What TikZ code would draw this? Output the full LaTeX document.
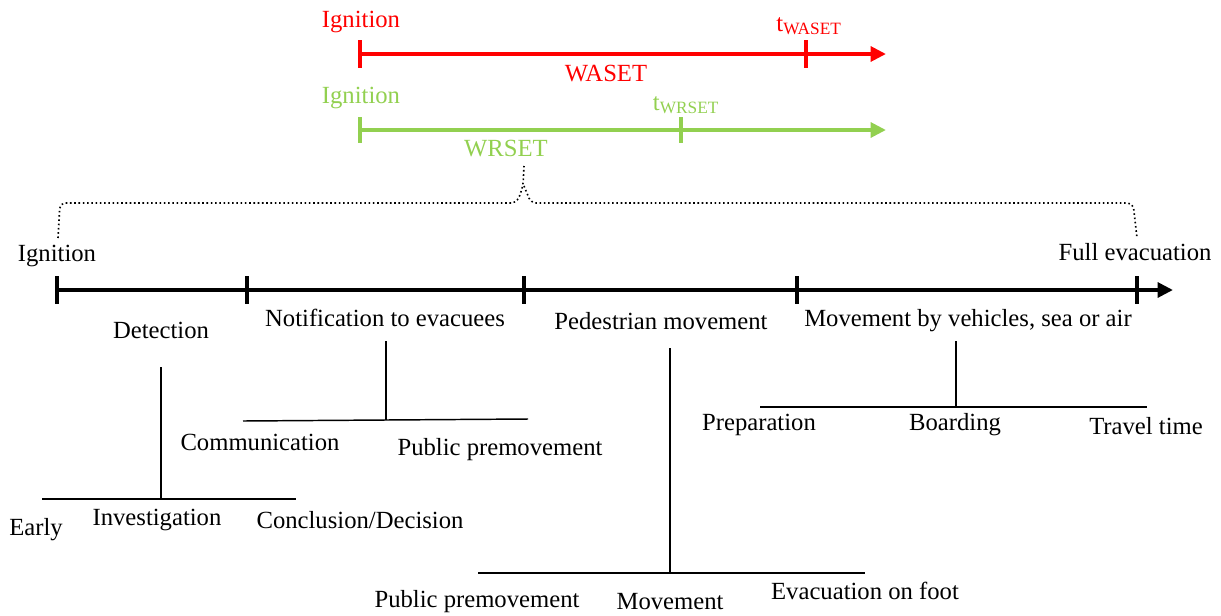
\documentclass[tikz,border=0pt]{standalone}
\usepackage{fontspec}
\setmainfont{Liberation Serif}
\usetikzlibrary{arrows.meta}
\definecolor{wred}{HTML}{FF0000}
\definecolor{wgreen}{HTML}{92D050}
\begin{document}
\begin{tikzpicture}[x=0.75pt,y=-0.75pt,
  font=\fontsize{18.5}{21}\selectfont,
  lbl/.style={inner sep=0pt, anchor=center, yshift=-1.5pt},
  axis/.style={line width=3pt, -{Triangle[length=11.5pt,width=11pt]}},
  tick/.style={line width=3pt},
  tree/.style={line width=1.1pt},
  brace/.style={dotted, line width=1.2pt, rounded corners=4pt}]
\useasboundingbox (0,0) rectangle (1221,615);

% ---- WASET (red)
\coordinate (r0) at (360,54);
\coordinate (r1) at (806,54);
\coordinate (rend) at (886,54);
\draw[axis, wred] (r0) -- (rend);
\draw[tick, wred] (r0) ++(0,-14) -- ++(0,28);
\draw[tick, wred] (r1) ++(0,-14) -- ++(0,28);
\node[lbl, text=wred] (rign) at (361,20) {Ignition};
\node[lbl, text=wred] (rt) at (809,24) {t\textsubscript{WASET}};
\node[lbl, text=wred] (rw) at (606,72) {WASET};

% ---- WRSET (green)
\coordinate (g0) at (360,130);
\coordinate (g1) at (681,130);
\coordinate (gend) at (886,130);
\draw[axis, wgreen] (g0) -- (gend);
\draw[tick, wgreen] (g0) ++(0,-13) -- ++(0,26);
\draw[tick, wgreen] (g1) ++(0,-13) -- ++(0,26);
\node[lbl, text=wgreen] (gign) at (361,96) {Ignition};
\node[lbl, text=wgreen] (gt) at (686,103) {t\textsubscript{WRSET}};
\node[lbl, text=wgreen] (gw) at (506,147) {WRSET};

% ---- dotted brace
\coordinate (bl) at (58,238);
\coordinate (br) at (1137,238);
\coordinate (bm) at (524,166);
\draw[brace] (bl) -- (60,203) -- (517,203) -- (523,186) -- (bm);
\draw[brace] (bm) ++(0,20) -- (531,203) -- (1133,203) -- (br);

% ---- main timeline
\coordinate (m0) at (57,290);
\coordinate (m1) at (247,290);
\coordinate (m2) at (524,290);
\coordinate (m3) at (797,290);
\coordinate (m4) at (1137,290);
\coordinate (mend) at (1173,290);
\draw[axis] (m0) -- (mend);
\foreach \p in {m0,m1,m2,m3,m4} \draw[tick] (\p) ++(0,-14) -- ++(0,28);

\node[lbl] (ign) at (57,254) {Ignition};
\node[lbl] (full) at (1135,250) {Full evacuation};
\node[lbl] (det) at (161,328) {Detection};
\node[lbl] (not) at (385,316) {Notification to evacuees};
\node[lbl] (ped) at (661,319) {Pedestrian movement};
\node[lbl] (veh) at (968,319) {Movement by vehicles, sea or air};

% ---- Detection tree
\coordinate (dtop) at (161,367);
\coordinate (djoin) at (161,499);
\coordinate (dl) at (42,499);
\coordinate (dr) at (296,499);
\draw[tree] (dtop) -- (djoin);
\draw[tree] (dl) -- (dr);
\node[lbl] (early) at (36,528) {Early};
\node[lbl] (inv) at (157,518) {Investigation};
\node[lbl] (conc) at (360,518) {Conclusion/Decision};

% ---- Notification tree
\coordinate (ntop) at (386,341);
\coordinate (njoin) at (386,420);
\coordinate (nl) at (243,421);
\coordinate (nr) at (528,419);
\draw[tree] (ntop) -- (njoin);
\draw[tree] (nl) -- (nr);
\node[lbl] (comm) at (260,440) {Communication};
\node[lbl] (ppm1) at (500,448) {Public premovement};

% ---- Pedestrian tree
\coordinate (ptop) at (670,348);
\coordinate (pjoin) at (670,573);
\coordinate (pl) at (478,573);
\coordinate (pr) at (865,573);
\draw[tree] (ptop) -- (pjoin);
\draw[tree] (pl) -- (pr);
\node[lbl] (ppm2) at (477,600) {Public premovement};
\node[lbl] (mov) at (670,600) {Movement};
\node[lbl] (foot) at (865,589) {Evacuation on foot};

% ---- Vehicle tree
\coordinate (vtop) at (956,341);
\coordinate (vjoin) at (956,407);
\coordinate (vl) at (760,407);
\coordinate (vr) at (1147,407);
\draw[tree] (vtop) -- (vjoin);
\draw[tree] (vl) -- (vr);
\node[lbl] (prep) at (759,423) {Preparation};
\node[lbl] (board) at (955,423) {Boarding};
\node[lbl] (travel) at (1146,424) {Travel time};
\end{tikzpicture}
\end{document}
